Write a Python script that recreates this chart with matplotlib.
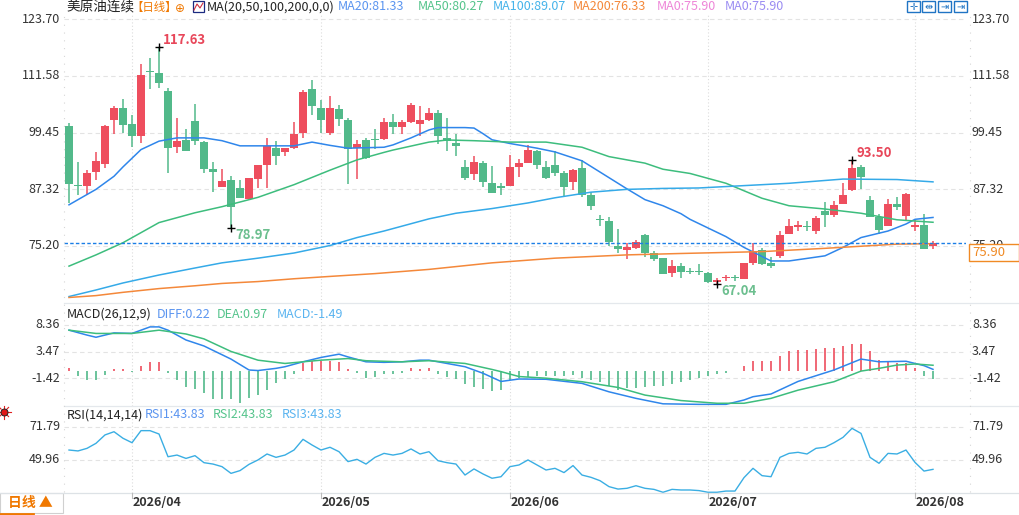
import numpy as np
import matplotlib
matplotlib.use("Agg")
import matplotlib.pyplot as plt
from matplotlib.patches import Rectangle
from matplotlib.transforms import blended_transform_factory

plt.rcParams['font.family'] = ['Noto Sans CJK SC', 'DejaVu Sans']

# ---- data ----
opens = [100.8, 88.2, 88.1, 91.1, 92.8, 102.1, 104.7, 101.3, 98.6, 112.6,
         112.2, 108.3, 96.4, 97.8, 101.9, 97.5, 91.6, 87.7, 89.4, 87.5,
         85.2, 89.5, 92.4, 96.2, 95.2, 96.2, 99.4, 108.7, 104.7, 99.4,
         104.4, 102.1, 96.1, 97.8, 98.1, 98.1, 101.7, 100.7, 101.7, 101.3,
         102.1, 103.6, 98.3, 97.2, 92.0, 90.6, 92.9, 88.6, 88.0, 88.0,
         92.1, 93.0, 95.4, 92.1, 92.5, 90.8, 88.9, 91.9, 86.1, 81.0,
         80.5, 75.2, 74.3, 74.8, 77.6, 73.6, 72.6, 69.5, 70.9, 69.9,
         69.8, 69.5, 67.6, 68.3, 68.5, 68.15, 71.6, 74.3, 71.5, 73.1,
         77.7, 79.3, 79.5, 78.4, 82.7, 81.9, 84.2, 87.1, 92.1, 85.0,
         81.5, 79.5, 84.2, 81.7, 79.3, 79.7, 75.3]
highs = [101.4, 93.1, 91.4, 95.2, 101.0, 105.2, 106.6, 103.2, 114.0, 115.3,
         117.63, 109.0, 102.6, 100.2, 105.5, 97.6, 93.1, 91.6, 90.2, 89.3,
         89.8, 92.5, 98.3, 97.6, 96.2, 101.8, 108.5, 110.7, 106.4, 107.2,
         105.3, 102.5, 97.8, 98.3, 100.2, 102.5, 103.5, 102.1, 105.8, 105.1,
         104.7, 104.3, 102.5, 99.1, 93.6, 94.4, 93.4, 92.3, 88.6, 94.6,
         93.8, 96.8, 95.7, 93.4, 95.5, 91.3, 91.6, 93.6, 86.8, 81.9,
         81.3, 78.8, 75.8, 76.5, 77.8, 74.1, 72.6, 72.2, 71.5, 70.4,
         71.3, 69.7, 68.3, 68.9, 68.9, 71.6, 75.8, 74.7, 72.8, 78.3,
         81.0, 80.6, 80.6, 81.6, 84.5, 84.9, 88.6, 93.5, 92.6, 85.9,
         82.0, 85.2, 85.7, 86.6, 80.8, 82.0, 76.2]
lows = [84.3, 86.1, 86.2, 89.3, 91.9, 99.1, 99.3, 96.4, 97.3, 108.7,
        109.0, 90.9, 95.1, 95.4, 96.8, 90.9, 86.8, 87.7, 78.97, 85.4,
        85.2, 87.5, 87.5, 92.5, 94.5, 96.0, 98.3, 103.2, 99.3, 98.9,
        100.9, 88.5, 89.5, 93.7, 95.9, 97.8, 99.1, 99.1, 101.4, 98.6,
        102.0, 96.9, 95.6, 94.5, 89.2, 89.2, 87.7, 86.6, 86.1, 88.0,
        90.0, 93.0, 91.6, 89.6, 90.2, 85.6, 87.2, 85.6, 82.9, 79.5,
        75.3, 73.8, 72.5, 74.6, 72.9, 72.1, 69.3, 68.6, 68.3, 69.2,
        69.0, 67.4, 67.04, 67.8, 67.8, 68.15, 71.2, 71.2, 70.6, 72.6,
        77.7, 78.5, 78.5, 77.8, 79.3, 81.3, 84.2, 87.0, 87.4, 81.5,
        77.8, 79.5, 82.9, 80.8, 78.3, 74.6, 74.5]
closes = [88.4, 88.1, 90.7, 93.4, 100.8, 104.7, 101.1, 98.6, 111.7, 112.3,
          110.1, 96.2, 97.6, 95.4, 97.7, 91.7, 91.1, 89.1, 83.6, 85.5,
          89.8, 92.5, 96.6, 94.5, 96.2, 99.1, 108.2, 105.2, 102.1, 104.7,
          102.3, 95.9, 97.1, 94.1, 97.9, 101.7, 100.7, 101.7, 105.3, 102.1,
          103.6, 98.8, 97.7, 96.6, 89.8, 93.1, 88.9, 86.6, 87.5, 92.0,
          92.9, 95.7, 92.6, 89.8, 90.9, 87.9, 91.4, 86.1, 83.8, 80.8,
          76.1, 74.6, 74.9, 76.0, 73.6, 72.5, 69.3, 70.9, 69.7, 69.7,
          69.6, 67.6, 68.0, 68.4, 68.4, 71.5, 74.1, 71.4, 70.9, 77.5,
          79.4, 79.6, 79.2, 81.2, 81.8, 84.0, 86.1, 91.9, 90.0, 81.5,
          78.6, 84.2, 83.6, 86.3, 79.7, 74.6, 75.9]

ma20_x = [0, 3, 5, 6, 8, 10, 12, 15, 17, 19, 21, 25, 27, 29, 31, 33, 35, 36, 38,
          40, 41, 44, 45, 46, 47, 49, 52, 54, 57, 59, 62, 64, 66, 68, 69, 73, 75,
          78, 80, 84, 86, 88, 91, 93, 94, 96]
ma20_y = [84.0, 87.3, 90.1, 92.1, 95.8, 97.6, 98.3, 98.3, 97.7, 96.6, 96.6, 96.6,
          97.4, 96.7, 96.1, 96.2, 96.3, 96.8, 98.3, 100.0, 100.5, 100.5, 100.4,
          99.2, 97.9, 97.1, 96.1, 95.3, 93.4, 91.0, 87.4, 85.1, 83.8, 82.1, 80.9,
          77.2, 74.9, 72.0, 72.0, 73.1, 74.9, 77.0, 78.4, 79.9, 80.9, 81.3]
ma50_x = [0, 3, 6, 10, 14, 17, 21, 25, 29, 32, 35, 36, 40, 42, 45, 49, 53, 57,
          60, 64, 66, 69, 73, 77, 80, 84, 88, 92, 96]
ma50_y = [70.9, 73.3, 75.9, 80.2, 82.3, 83.6, 85.6, 88.3, 91.4, 93.6, 95.2, 95.7,
          97.4, 97.85, 97.7, 97.4, 97.4, 96.3, 94.3, 92.9, 91.6, 90.7, 88.6, 85.4,
          83.8, 83.1, 82.2, 80.8, 80.27]
ma100_x = [0, 3, 6, 10, 14, 17, 21, 25, 29, 32, 35, 40, 43, 47, 51, 54, 58, 62,
           66, 70, 73, 80, 86, 92, 96]
ma100_y = [64.4, 65.8, 67.3, 69.0, 70.5, 71.6, 72.6, 73.7, 75.3, 77.0, 78.4, 81.0,
           82.2, 83.2, 84.4, 85.5, 86.7, 87.3, 87.5, 87.6, 87.9, 88.6, 89.5, 89.4,
           88.9]
ma200_x = [0, 3, 6, 10, 14, 17, 21, 25, 29, 34, 40, 47, 54, 62, 68, 77, 84, 92, 96]
ma200_y = [64.2, 64.6, 65.3, 66.1, 66.7, 67.2, 67.6, 68.2, 68.7, 69.3, 70.2, 71.6,
           72.6, 73.3, 73.6, 74.0, 74.7, 75.6, 75.7]

diff_x = [0, 2, 3, 5, 7, 9, 10, 11, 13, 15, 18, 20, 21, 23, 24, 26, 28, 30, 31, 33,
          35, 37, 39, 40, 42, 44, 46, 48, 50, 53, 57, 60, 63, 66, 70, 73, 75, 76,
          78, 81, 85, 88, 90, 93, 95, 96]
diff_y = [7.4, 6.5, 6.1, 6.9, 6.8, 8.0, 8.0, 7.4, 5.6, 4.5, 2.1, 0.1, 0.0, 0.4, 0.7,
          1.6, 2.4, 3.0, 2.5, 1.6, 1.5, 1.6, 1.9, 1.9, 1.3, 0.7, -0.5, -2.0, -1.55,
          -1.6, -2.35, -3.9, -5.1, -6.1, -6.2, -6.2, -5.4, -4.8, -4.3, -2.0, 0.1,
          2.1, 1.6, 1.7, 0.9, 0.22]
dea_x = [0, 3, 7, 10, 13, 15, 18, 21, 24, 26, 28, 31, 33, 37, 40, 44, 47, 48, 50,
         53, 57, 61, 64, 68, 72, 75, 78, 81, 85, 88, 90, 92, 94, 96]
dea_y = [7.4, 6.8, 6.8, 7.4, 6.7, 5.8, 3.5, 1.9, 1.3, 1.6, 1.9, 2.2, 1.8, 1.6, 1.8,
         1.3, 0.2, -0.2, -1.1, -1.4, -2.05, -3.1, -4.5, -5.5, -6.0, -6.0, -5.1,
         -3.6, -2.05, -0.1, 0.4, 1.0, 1.2, 0.97]
macd_bar = [0.5, -1.0, -1.65, -1.77, -0.9, 0.2, 0.2, -0.3, 0.9, 1.65,
            1.65, -0.4, -1.8, -3.0, -3.4, -4.2, -5.2, -5.3, -5.3, -5.9,
            -5.1, -4.4, -3.5, -2.3, -1.5, -0.55, 1.4, 1.7, 1.7, 1.8,
            1.65, 0.2, -0.4, -1.3, -1.2, -0.7, -0.55, -0.4, 0.4, 0.3,
            0.5, -0.55, -1.2, -1.5, -2.4, -3.0, -3.4, -3.8, -3.6, -1.8,
            -1.3, -1.15, -1.0, -1.0, -1.0, -1.0, -0.9, -1.3, -1.65, -2.1,
            -2.9, -3.5, -3.2, -3.2, -3.0, -2.9, -2.75, -2.4, -2.1, -1.65,
            -1.3, -1.0, -0.7, -0.4, -0.1, 0.8, 1.7, 1.8, 1.8, 2.75,
            3.5, 3.85, 3.85, 4.0, 4.15, 4.15, 4.45, 4.95, 4.95, 3.5,
            2.0, 1.6, 1.3, 1.3, 0.5, -1.0, -1.49]

rsi = [56.5, 55.9, 57.6, 60.9, 66.4, 68.5, 64.2, 61.3, 69.2, 69.2,
       67.0, 52.1, 53.2, 51.0, 52.8, 48.2, 47.3, 45.6, 41.2, 43.0,
       47.1, 50.0, 53.9, 51.7, 53.2, 56.5, 63.5, 59.8, 56.5, 58.3,
       55.4, 48.9, 50.4, 47.3, 51.7, 54.3, 53.2, 54.3, 57.2, 53.9,
       55.4, 49.5, 48.2, 47.3, 40.1, 44.1, 40.8, 38.0, 39.0, 45.6,
       46.7, 50.0, 46.7, 43.4, 44.5, 41.7, 46.3, 40.1, 38.6, 36.4,
       32.5, 30.9, 31.4, 33.1, 31.4, 30.7, 28.8, 30.7, 30.3, 30.3,
       29.9, 28.8, 28.8, 29.6, 29.6, 38.4, 44.5, 39.7, 39.0, 51.7,
       54.3, 55.0, 53.9, 57.6, 58.3, 61.3, 64.8, 70.7, 67.4, 51.7,
       47.8, 54.3, 53.9, 56.5, 48.4, 42.7, 43.83]

price_ticks = [123.70, 111.58, 99.45, 87.32, 75.20]
macd_ticks = [8.36, 3.47, -1.42]
rsi_ticks = [71.79, 49.96]
month_idx = [7, 28, 49, 71, 94]
month_labels = ['2026/04', '2026/05', '2026/06', '2026/07', '2026/08']
last_price = 75.90

RED = '#ee4e5e'
GREEN = '#52b98a'
C20, C50, C100, C200 = '#2f86eb', '#3dbd7d', '#35aae8', '#f4883a'
TXT = '#333333'
GRID = '#e3e3e3'

W, H = 1019, 515
def fx(x):
    return x / W
def fy(y):
    return 1 - y / H

fig = plt.figure(figsize=(W / 100, H / 100), dpi=100)
fig.patch.set_facecolor('white')

def panel(top, bottom, ylim):
    ax = fig.add_axes([fx(64), fy(bottom), fx(966) - fx(64), fy(top) - fy(bottom)])
    ax.set_xlim(-5 / 9, 897 / 9)
    ax.set_ylim(*ylim)
    ax.axis('off')
    for m in month_idx:
        ax.axvline(m, color='#dcdcdc', lw=0.8, ls=(0, (1, 2)), zorder=0)
    return ax

ax = panel(14, 303, (63.02, 124.77))
axm = panel(303, 406, (-6.50, 12.38))
axr = panel(406, 492.7, (28.52, 85.36))

def yticks(a, vals, fmt='{:.2f}'):
    tr = blended_transform_factory(a.transAxes, a.transData)
    for v in vals:
        a.axhline(v, color=GRID, lw=0.8, ls=(0, (4, 3)), zorder=0)
        a.text(-4 / 902, v, fmt.format(v), transform=tr, ha='right', va='center',
               fontsize=9, color=TXT)
        a.text(1 + 6 / 902, v, fmt.format(v), transform=tr, ha='left', va='center',
               fontsize=9, color=TXT, clip_on=False)

yticks(ax, price_ticks)
yticks(axm, macd_ticks)
yticks(axr, rsi_ticks)

# ---- candles ----
x = np.arange(len(closes))
o = np.array(opens); c = np.array(closes)
cols = [RED if cc > oo else GREEN for oo, cc in zip(o, c)]
ax.vlines(x, lows, highs, colors=cols, lw=1.1, zorder=3)
body = np.maximum(np.abs(c - o), 0.18)
ax.bar(x, body, bottom=np.minimum(o, c), width=0.78, color=cols, lw=0, zorder=4)

ax.plot(ma20_x, ma20_y, color=C20, lw=1.1, zorder=5)
ax.plot(ma50_x, ma50_y, color=C50, lw=1.1, zorder=5)
ax.plot(ma100_x, ma100_y, color=C100, lw=1.1, zorder=5)
ax.plot(ma200_x, ma200_y, color=C200, lw=1.1, zorder=5)
ax.axhline(last_price, color='#1a7ee6', lw=1.0, ls=(0, (2.5, 1.6)), zorder=6)

def mark(i, val, text, color, above):
    ax.plot(i, val, marker='+', color='black', ms=6, mew=1.0, zorder=7)
    ax.annotate(text, (i, val), xytext=(3.0, 5 if above else -5),
                textcoords='offset points', ha='left', va='center',
                fontsize=9.5, fontweight='bold', color=color, zorder=7)

hi = int(np.argmax(highs)); lo = int(np.argmin(lows))
mark(hi, highs[hi], f'{highs[hi]:.2f}', '#e8475a', True)
mark(18, lows[18], f'{lows[18]:.2f}', '#6cbf8f', False)
mark(lo, lows[lo], f'{lows[lo]:.2f}', '#6cbf8f', False)
mark(87, highs[87], f'{highs[87]:.2f}', '#e8475a', True)

# ---- MACD ----
bcols = [RED if v > 0 else GREEN for v in macd_bar]
axm.vlines(x, 0, macd_bar, colors=bcols, lw=1.2, zorder=3)
axm.plot(diff_x, diff_y, color=C20, lw=1.1, zorder=4)
axm.plot(dea_x, dea_y, color=C50, lw=1.1, zorder=4)

# ---- RSI ----
axr.plot(x, rsi, color='#3aaee3', lw=1.0, zorder=4)

# ---- frame lines ----
for yy in (303, 406):
    fig.add_artist(plt.Line2D([fx(64), 1], [fy(yy), fy(yy)], color='#e4e8ec', lw=0.9))
fig.add_artist(plt.Line2D([0, 1], [fy(492.7), fy(492.7)], color='#dde2e6', lw=0.9))
for xx in (64, 970):
    fig.add_artist(plt.Line2D([fx(xx), fx(xx)], [fy(492), fy(15)], color='#d6d6d6',
                              lw=0.8, ls=(0, (1, 6))))

# x labels
for m, lab in zip(month_idx, month_labels):
    xp = 69 + 9 * m
    fig.add_artist(plt.Line2D([fx(xp), fx(xp)], [fy(493), fy(498)], color='#bbbbbb', lw=0.8))
    fig.text(fx(xp + 1), fy(502), lab, ha='left', va='center', fontsize=9,
             fontweight='bold', color=TXT)

# bottom-left tab
fig.add_artist(Rectangle((0, fy(513)), fx(63), fy(493) - fy(513), transform=fig.transFigure,
                         facecolor='white', edgecolor='#d0d0d0', lw=0.8))
fig.add_artist(plt.Line2D([0, fx(33)], [fy(513.5), fy(513.5)], color='#f07800', lw=2))
fig.text(fx(8), fy(503), '日线 ▲', ha='left', va='center', fontsize=10,
         fontweight='bold', color='#f07800')

# last price box (covers the lower half of the 75.20 label, as in the reference)
fig.add_artist(Rectangle((fx(969), fy(261)), fx(1019) - fx(969), fy(244) - fy(261),
                         transform=fig.transFigure, facecolor='white',
                         edgecolor='#f08a24', lw=1.0, zorder=10))
fig.text(fx(972), fy(253), f'{last_price:.2f}', ha='left', va='center', fontsize=9.5,
         color='#f08a24', zorder=11)

# ---- header texts ----
def htext(xp, yp, s, color, size=9, **kw):
    fig.text(fx(xp), fy(yp), s, ha='left', va='center', fontsize=size, color=color, **kw)

htext(66, 7, '美原油连续', '#222222', size=9.8)
htext(131, 7, '【日线】', '#f07800', size=8.2)
fig.text(fx(180), fy(8), '⊕', ha='center', va='center', fontsize=8.5, color='#f07800',
         family=['DejaVu Sans'])
fig.add_artist(Rectangle((fx(193), fy(12)), fx(11), fy(1) - fy(12), transform=fig.transFigure,
                         facecolor='white', edgecolor='#1b2a80', lw=0.9))
fig.add_artist(plt.Line2D([fx(194), fx(197), fx(200), fx(203)], [fy(10), fy(4), fy(8), fy(3)],
                          color='#d03040', lw=0.8))
htext(207, 7, 'MA(20,50,100,200,0,0)', '#222222')
htext(338, 7, 'MA20:81.33', '#5b95f0')
htext(418, 7, 'MA50:80.27', '#55c48c')
htext(493, 7, 'MA100:89.07', '#45b3ea')
htext(573, 7, 'MA200:76.33', '#f4883a')
htext(657, 7, 'MA0:75.90', '#ee86d8')
htext(725, 7, 'MA0:75.90', '#9a8cf2')

htext(67, 314, 'MACD(26,12,9)', '#222222')
htext(157, 314, 'DIFF:0.22', '#5b95f0')
htext(217, 314, 'DEA:0.97', '#55c48c')
htext(277, 314, 'MACD:-1.49', '#5ab4f0')

htext(67, 415, 'RSI(14,14,14)', '#222222')
htext(145, 415, 'RSI1:43.83', '#5b95f0')
htext(213, 415, 'RSI2:43.83', '#55c48c')
htext(282, 415, 'RSI3:43.83', '#5ab4f0')

# red "sun" icon at the left of the RSI panel
cx, cy = 4, 412
for a in np.linspace(0, 2 * np.pi, 8, endpoint=False):
    fig.add_artist(plt.Line2D([fx(cx + 4 * np.cos(a)), fx(cx + 6.5 * np.cos(a))],
                              [fy(cy + 4 * np.sin(a)), fy(cy + 6.5 * np.sin(a))],
                              color='#e02020', lw=0.8))
fig.add_artist(plt.Line2D([fx(cx)], [fy(cy)], marker='o', ms=5, mfc='#e01818',
                          mec='#222222', mew=0.7, ls='none'))

# toolbar icons
for xi, g in zip([907, 922, 938, 954], ['✛', '⇹', '⇥', '⇥']):
    fig.add_artist(Rectangle((fx(xi), fy(12)), fx(13), fy(0.5) - fy(12),
                             transform=fig.transFigure, facecolor='white',
                             edgecolor='#1f74c4', lw=1.0))
    fig.text(fx(xi + 6.5), fy(6.5), g, ha='center', va='center', fontsize=7,
             color='#1f74c4', family=['DejaVu Sans'])

fig.savefig('out.png', dpi=100, facecolor='white')
